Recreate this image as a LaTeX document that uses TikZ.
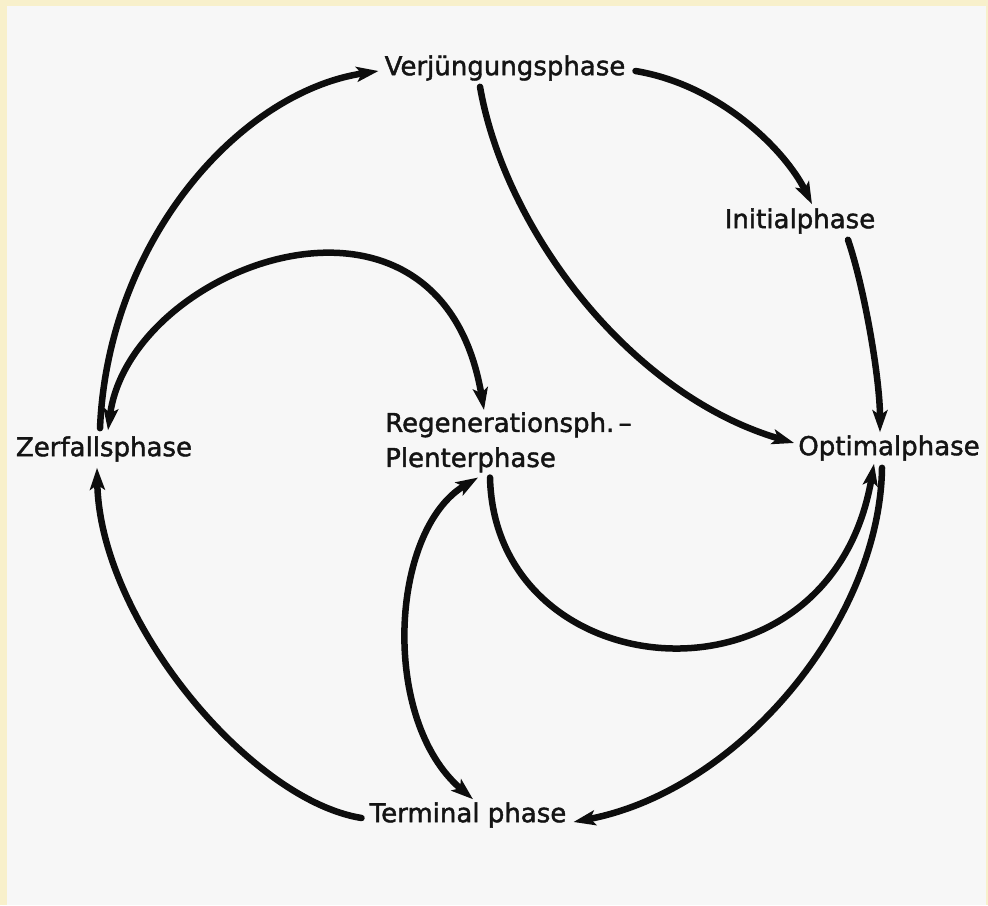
\documentclass[tikz,border=0pt]{standalone}
\usepackage{fontspec}
\setmainfont[FakeBold=1.6,AutoFakeBold=1.6]{DejaVu Sans}
\usetikzlibrary{arrows.meta}
\definecolor{frame}{HTML}{F8F0CB}
\definecolor{paper}{HTML}{F7F7F7}
\tikzset{
  lbl/.style={inner sep=0pt, font=\fontsize{26}{35}\selectfont\bfseries, text=black!92},
  tipa/.tip={Stealth[length=22pt,width=15pt,inset=5pt]},
  conn/.style={line width=6.5pt, draw=black!95, line cap=round, -tipa},
  dconn/.style={line width=6.5pt, draw=black!95, line cap=round, tipa-tipa}
}
\begin{document}
\begin{tikzpicture}[x={(1pt,0)}, y={(0,-1pt)}]
\useasboundingbox (0,0) rectangle (988,905);
\fill[frame] (0,0) rectangle (988,905);
\fill[paper] (7,6) rectangle (986,905);

\node[lbl] (ver) at (505,68) {Verjüngungsphase};
\node[lbl] (ini) at (800,221) {Initialphase};
\node[lbl] (zer) at (104,449) {Zerfallsphase};
\node[lbl] (opt) at (889,448) {Optimalphase};
\node[lbl, align=left, anchor=north west] (reg) at (385,412) {Regenerationsph.\,--\\Plenterphase};
\node[lbl] (ter) at (468,815) {Terminal phase};

% outer arc Zerfall -> Verjuengung
\draw[conn] ([xshift=-4pt,yshift=8pt]zer.north) .. controls (108,240) and (240,92) .. ([xshift=-6pt,yshift=-3pt]ver.west);
% Verjuengung -> Initial
\draw[conn] ([xshift=10pt,yshift=-3pt]ver.east) .. controls (720,85) and (785,150) .. ([xshift=12pt,yshift=4pt]ini.north);
% Initial -> Optimal
\draw[conn] ([xshift=48pt,yshift=-6pt]ini.south) .. controls (865,290) and (880,380) .. ([xshift=-9pt,yshift=3pt]opt.north);
% Verjuengung -> Optimal
\draw[conn] ([xshift=-25pt,yshift=-6pt]ver.south) .. controls (505,230) and (630,395) .. ([xshift=-4pt,yshift=5pt]opt.west);
% inner arc Zerfall <-> Regeneration
\draw[dconn] ([xshift=4pt,yshift=6pt]zer.north) .. controls (130,265) and (440,150) .. ([xshift=99pt,yshift=2pt]reg.north west);
% Optimal -> Terminal
\draw[conn] ([xshift=-7pt,yshift=-7pt]opt.south) .. controls (880,620) and (740,790) .. ([xshift=7pt,yshift=-7pt]ter.east);
% Terminal -> Zerfall
\draw[conn] ([xshift=-8pt,yshift=-3pt]ter.west) .. controls (250,800) and (100,620) .. ([xshift=-7pt,yshift=-6pt]zer.south);
% Plenter -> Optimal
\draw[conn] ([xshift=105pt,yshift=-5pt]reg.south west) .. controls (495,690) and (830,720) .. ([xshift=-15pt,yshift=-3pt]opt.south);
% Plenter <-> Terminal
\draw[dconn] ([xshift=93pt,yshift=-5pt]reg.south west) .. controls (390,530) and (380,720) .. ([xshift=5pt,yshift=3pt]ter.north);
\end{tikzpicture}
\end{document}
